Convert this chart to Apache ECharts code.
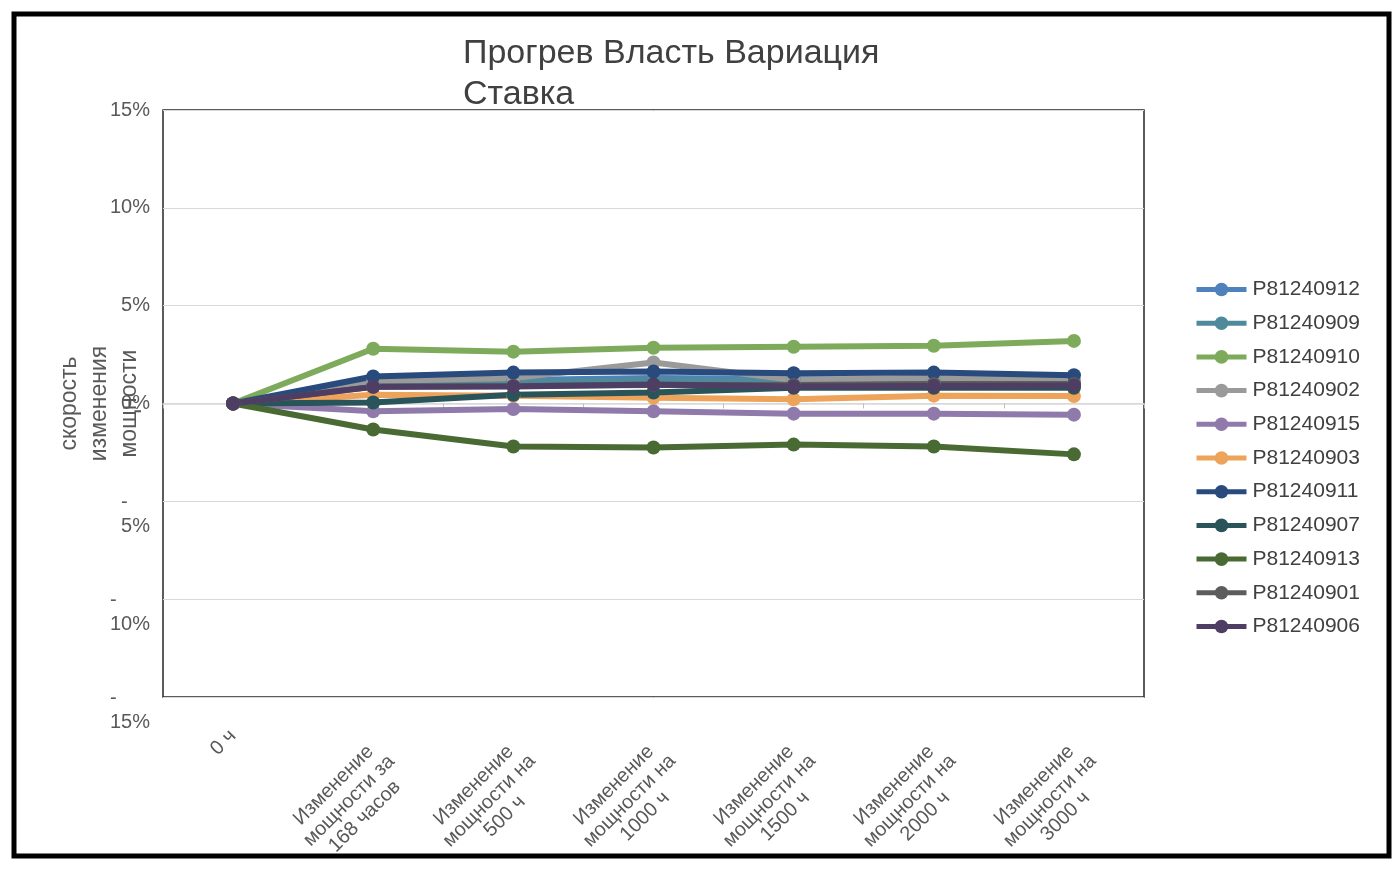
<!DOCTYPE html>
<html>
<head>
<meta charset="utf-8">
<title>Прогрев Власть Вариация Ставка</title>
<script src="https://cdn.jsdelivr.net/npm/echarts@6/dist/echarts.min.js"></script>
<style>
  html, body { margin: 0; padding: 0; background: #fff; }
  #chart { width: 1400px; height: 874px; }
</style>
</head>
<body>
<div id="chart"></div>
<script>
// категории по оси X
var categories = ['0 ч',
  'Изменение\nмощности за\n168 часов',
  'Изменение\nмощности на\n500 ч',
  'Изменение\nмощности на\n1000 ч',
  'Изменение\nмощности на\n1500 ч',
  'Изменение\nмощности на\n2000 ч',
  'Изменение\nмощности на\n3000 ч'];

var seriesNames = ['P81240912','P81240909','P81240910','P81240902','P81240915','P81240903',
  'P81240911','P81240907','P81240913','P81240901','P81240906'];

// значения в %
var p912 = [0, 1.05, 1.2, 1.3, 1.25, 1.2, 1.1];
var p909 = [0, 0.95, 1.1, 1.2, 1.15, 1.1, 1.05];
var p910 = [0, 2.8, 2.65, 2.85, 2.9, 2.95, 3.2];
var p902 = [0, 1.15, 1.3, 2.1, 1.2, 1.3, 1.2];
var p915 = [0, -0.4, -0.28, -0.4, -0.52, -0.52, -0.57];
var p903 = [0, 0.45, 0.4, 0.3, 0.22, 0.4, 0.38];
var p911 = [0, 1.38, 1.58, 1.63, 1.55, 1.58, 1.45];
var p907 = [0, 0.05, 0.45, 0.56, 0.8, 0.8, 0.8];
var p913 = [0, -1.33, -2.2, -2.25, -2.1, -2.2, -2.6];
var p901 = [0, 0.85, 0.9, 0.95, 0.95, 1.0, 1.0];
var p906 = [0, 0.85, 0.87, 0.97, 0.87, 0.9, 0.92];

var allData = [p912, p909, p910, p902, p915, p903, p911, p907, p913, p901, p906];
var colors = ['#4f81bd','#4f8a9c','#7eab5b','#9a9a9a','#8f7aab','#eda35a',
  '#284a7c','#28545a','#4a6a34','#5c5c5c','#4e3e64'];

var yTicks = [-15, -10, -5, 0, 5, 10, 15];

var font = 'Liberation Sans, Arial, sans-serif';
var myChart = echarts.init(document.getElementById('chart'));

var series = [];
for (var i = 0; i < seriesNames.length; i++) {
  series.push({
    name: seriesNames[i],
    type: 'line',
    data: allData[i],
    symbol: 'circle',
    symbolSize: 14,
    lineStyle: { width: 6, color: colors[i] },
    itemStyle: { color: colors[i] }
  });
}

var option = {
  backgroundColor: '#fff',
  color: colors,
  animation: false,
  title: {
    text: 'Прогрев Власть Вариация\nСтавка',
    left: 458,
    top: 28,
    textStyle: { fontFamily: font, fontSize: 34, fontWeight: 'normal', color: '#404040', lineHeight: 41 }
  },
  legend: {
    orient: 'vertical',
    left: 1189,
    top: 274,
    itemWidth: 50,
    itemHeight: 17,
    itemGap: 12.7,
    lineStyle: { width: 5 },
    textStyle: { fontFamily: font, fontSize: 21, color: '#404040', lineHeight: 20, padding: [0, 0, 0, 1] },
    data: seriesNames
  },
  grid: { left: 163, top: 110, width: 981, height: 587, show: true, borderColor: '#262626', borderWidth: 1.5, containLabel: false },
  xAxis: [{
    type: 'category',
    data: categories,
    boundaryGap: true,
    axisLine: { show: false, onZero: false },
    axisTick: { show: false },
    axisLabel: {
      interval: 0,
      rotate: 45,
      margin: 36,
      fontFamily: font,
      fontSize: 20,
      color: '#595959',
      formatter: function (v) {
        if (v.indexOf('\n') < 0) return v;
        return '{e| }\n' + v.split('\n').map(function (s) { return '{c|' + s + '}'; }).join('\n');
      },
      rich: {
        e: { fontSize: 1, lineHeight: 62 },
        c: { fontFamily: font, fontSize: 20, color: '#595959', width: 130, align: 'center', lineHeight: 22 }
      }
    }
  }, {
    // серая линия на нуле с делениями
    type: 'category',
    data: categories,
    boundaryGap: true,
    position: 'bottom',
    axisLine: { show: true, onZero: true, lineStyle: { color: '#d9d9d9', width: 1.5 } },
    axisTick: { show: true, length: 5, lineStyle: { color: '#bfbfbf' } },
    axisLabel: { show: false }
  }],
  yAxis: {
    type: 'value',
    min: yTicks[0],
    max: yTicks[yTicks.length - 1],
    interval: 5,
    name: 'скорость\nизменения\nмощности',
    nameLocation: 'middle',
    nameGap: 18,
    nameMoveOverlap: false,
    nameRotate: 90,
    nameTextStyle: { fontFamily: font, fontSize: 23, color: '#595959', lineHeight: 30 },
    axisLine: { show: false },
    axisTick: { show: false },
    splitLine: { lineStyle: { color: '#d9d9d9', width: 1 } },
    axisLabel: {
      margin: 13,
      fontFamily: font,
      fontSize: 20,
      color: '#595959',
      formatter: function (v) {
        if (v >= 0) return v + '%';
        return '{e| }\n{d|-}\n{p|' + (-v) + '%}';
      },
      rich: {
        e: { fontSize: 1, lineHeight: 26 },
        d: { fontFamily: font, fontSize: 20, color: '#595959', align: 'left', lineHeight: 24 },
        p: { fontFamily: font, fontSize: 20, color: '#595959', lineHeight: 24 }
      }
    }
  },
  graphic: [{
    type: 'rect',
    z: 100,
    shape: { x: 14, y: 14, width: 1375, height: 842 },
    style: { fill: 'none', stroke: '#000', lineWidth: 5 }
  }],
  series: series
};

myChart.setOption(option);
window.addEventListener('resize', function () {
  myChart.resize();
});
</script>
</body>
</html>
